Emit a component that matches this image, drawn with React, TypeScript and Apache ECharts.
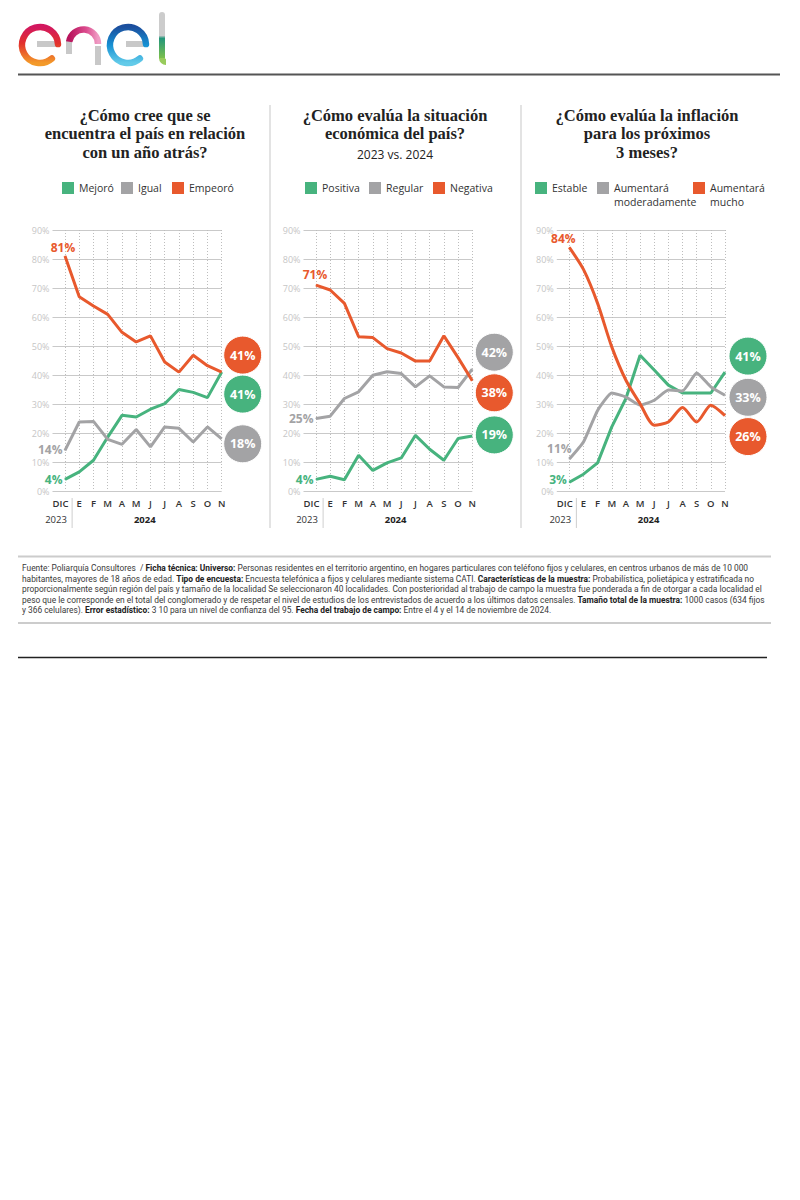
import React, { useEffect, useRef } from 'react';
import * as echarts from 'echarts';

// ---------- data ----------
const MONTHS = ['DIC', 'E', 'F', 'M', 'A', 'M', 'J', 'J', 'A', 'S', 'O', 'N'];
const YEAR_LEFT = '2023';
const YEAR_RIGHT = '2024';

// Chart 1: ¿Cómo cree que se encuentra el país en relación con un año atrás?
const C1_NAMES = ['Mejoró', 'Igual', 'Empeoró'];
const C1_MEJORO = [4, 6.6, 10.6, 18.6, 26.1, 25.5, 28.2, 30.1, 35, 34, 32.2, 41];
const C1_IGUAL = [14, 23.8, 24, 17.8, 16.1, 21.2, 15.2, 22.1, 21.6, 16.9, 22.1, 18];
const C1_EMPEORO = [81, 67, 63.8, 60.9, 54.7, 51.4, 53.5, 44.5, 41, 46.8, 43.2, 41];

// Chart 2: ¿Cómo evalúa la situación económica del país?
const C2_NAMES = ['Positiva', 'Regular', 'Negativa'];
const C2_POSITIVA = [4, 5.1, 3.9, 12.3, 7.1, 9.7, 11.4, 19.2, 14.4, 10.6, 18.1, 19];
const C2_REGULAR = [25, 25.8, 31.9, 34.2, 39.9, 41.1, 40.5, 35.9, 39.7, 35.9, 35.7, 42];
const C2_NEGATIVA = [71, 69.3, 64.7, 53.2, 52.9, 49.1, 47.6, 44.8, 44.8, 53.5, 46, 38];

// Chart 3: ¿Cómo evalúa la inflación para los próximos 3 meses?
const C3_NAMES = ['Estable', 'Aumentará moderadamente', 'Aumentará mucho'];
const C3_ESTABLE = [3, 5.8, 9.7, 22.1, 31.9, 46.8, 41.7, 36.5, 33.8, 33.8, 33.8, 41];
const C3_MODERADO = [11, 16.9, 27.8, 33.8, 32.4, 29.6, 31.3, 34.8, 34.5, 40.7, 35.9, 33];
const C3_MUCHO = [84, 76.4, 64.7, 49.7, 38.2, 30.1, 22.7, 23.8, 28.8, 23.8, 29.6, 26];

const Y_MIN = 0;
const Y_MAX = 90;
const Y_STEP = 10;

const TITLES = [
  '¿Cómo cree que se\nencuentra el país en relación\ncon un año atrás?',
  '¿Cómo evalúa la situación\neconómica del país?',
  '¿Cómo evalúa la inflación\npara los próximos\n3 meses?',
];
const SUBTITLE_2 = '2023 vs. 2024';

const FOOTER_LINES = [
  'Fuente: Poliarquía Consultores  / {b|Ficha técnica: Universo:} Personas residentes en el territorio argentino, en hogares particulares con teléfono fijos y celulares, en centros urbanos de más de 10 000',
  'habitantes, mayores de 18 años de edad. {b|Tipo de encuesta:} Encuesta telefónica a fijos y celulares mediante sistema CATI. {b|Características de la muestra:} Probabilística, polietápica y estratificada no',
  'proporcionalmente según región del país y tamaño de la localidad Se seleccionaron 40 localidades. Con posterioridad al trabajo de campo la muestra fue ponderada a fin de otorgar a cada localidad el',
  'peso que le corresponde en el total del conglomerado y de respetar el nivel de estudios de los entrevistados de acuerdo a los últimos datos censales. {b|Tamaño total de la muestra:} 1000 casos (634 fijos',
  'y 366 celulares). {b|Error estadístico:} 3 10 para un nivel de confianza del 95. {b|Fecha del trabajo de campo:} Entre el 4 y el 14 de noviembre de 2024.',
];

// ---------- styles / layout ----------
const GREEN = '#47B37E';
const GRAY = '#A3A3A5';
const ORANGE = '#E8592D';
const COLORS = [GREEN, GRAY, ORANGE];

const PLOT_TOP = 230;
const PLOT_H = 261;

const PANELS = [
  {
    x0: 65, x1: 221.7, titleX: 145,
    names: C1_NAMES, values: [C1_MEJORO, C1_IGUAL, C1_EMPEORO],
    legendX: [62, 121, 172],
    start: [
      { position: 'left', offset: [0, 0] },
      { position: 'left', offset: [0, -1] },
      { position: 'top', offset: [-2, 0] },
    ],
    badge: [[21, 22], [21, 5], [21, -17]],
    smooth: [false, false, false],
  },
  {
    x0: 316, x1: 472.3, titleX: 395,
    names: C2_NAMES, values: [C2_POSITIVA, C2_REGULAR, C2_NEGATIVA],
    legendX: [305, 369, 433],
    start: [
      { position: 'left', offset: [0, 0] },
      { position: 'left', offset: [0, 0] },
      { position: 'top', offset: [-1, -2] },
    ],
    badge: [[22, -1], [22, -17], [22, 12]],
    smooth: [false, false, false],
  },
  {
    x0: 569.3, x1: 725, titleX: 647,
    names: C3_NAMES, values: [C3_ESTABLE, C3_MODERADO, C3_MUCHO],
    legendX: [535, 597, 693],
    start: [
      { position: 'left', offset: [0, -3] },
      { position: 'top', offset: [-10, -2] },
      { position: 'top', offset: [-6, 0] },
    ],
    badge: [[23, -16], [23, 2], [23, 21]],
    smooth: [false, 0.15, 0.25],
  },
];

const SANS = 'Open Sans';

function legendLabel(name: string) {
  const parts = name.split(' ');
  if (parts.length > 1) return '\n' + parts[0] + '\n' + parts.slice(1).join(' ');
  return name;
}

function buildOption() {
  const grid: any[] = [];
  const xAxis: any[] = [];
  const yAxis: any[] = [];
  const series: any[] = [];
  const legend: any[] = [];
  const graphic: any[] = [];

  PANELS.forEach((p, i) => {
    const w = p.x1 - p.x0;
    const step = w / (MONTHS.length - 1);
    grid.push({ left: p.x0, top: PLOT_TOP, width: w, height: PLOT_H });
    grid.push({ left: p.x0 - 12.5, top: PLOT_TOP, width: w + 12.5, height: PLOT_H });

    xAxis.push({
      gridIndex: 2 * i,
      type: 'category',
      boundaryGap: false,
      data: MONTHS.map((m, k) => (k === 0 ? { value: m, textStyle: { padding: [0, 9, 0, 0] } } : m)),
      axisLine: { show: false },
      axisTick: { show: false },
      axisLabel: { interval: 0, margin: 7, fontSize: 9.5, fontWeight: 600, color: '#333', fontFamily: SANS },
      splitLine: { show: true, interval: 0, lineStyle: { type: [1, 2], color: '#bdbdbd', width: 1 } },
    });
    xAxis.push({ gridIndex: 2 * i + 1, type: 'value', min: 0, max: 1, show: false });

    yAxis.push({ gridIndex: 2 * i, type: 'value', min: Y_MIN, max: Y_MAX, show: false });
    yAxis.push({
      gridIndex: 2 * i + 1,
      type: 'value',
      min: Y_MIN,
      max: Y_MAX,
      interval: Y_STEP,
      axisLine: { show: false },
      axisTick: { show: false },
      axisLabel: { formatter: '{value}%', fontSize: 9, color: '#c6c6c6', margin: 3, fontFamily: SANS, lineHeight: 10 },
      splitLine: { show: true, lineStyle: { color: '#c9c9c9', width: 1 } },
    });

    p.names.forEach((name, k) => {
      const vals = p.values[k];
      const color = COLORS[k];
      const last = vals[vals.length - 1];
      series.push({
        type: 'line',
        name,
        xAxisIndex: 2 * i,
        yAxisIndex: 2 * i,
        symbol: 'none',
        showSymbol: true,
        showAllSymbol: true,
        smooth: p.smooth[k],
        z: 3 + k,
        lineStyle: { width: 3, color },
        itemStyle: { color },
        emphasis: { disabled: true },
        data: vals.map((v, j) =>
          j === 0
            ? {
                value: v,
                symbol: 'circle',
                symbolSize: 1,
                label: {
                  show: true,
                  position: p.start[k].position,
                  offset: p.start[k].offset,
                  distance: 2,
                  formatter: '{c}%',
                  color,
                  fontWeight: 'bold',
                  fontSize: 12,
                  lineHeight: 12,
                  fontFamily: SANS,
                },
              }
            : v
        ),
        markPoint: {
          silent: true,
          symbol: 'circle',
          symbolSize: 38,
          itemStyle: { color, borderColor: '#fff', borderWidth: 1 },
          label: { show: true, formatter: '{c}%', color: '#fff', fontWeight: 'bold', fontSize: 12.5, fontFamily: SANS },
          data: [{ coord: [vals.length - 1, last], value: last, symbolOffset: p.badge[k] }],
        },
      });

      const multi = legendLabel(name).indexOf('\n') >= 0;
      legend.push({
        data: [name],
        left: p.legendX[k],
        top: multi ? 167 : 181,
        padding: 0,
        icon: 'rect',
        itemWidth: 12,
        itemHeight: 12,
        selectedMode: false,
        formatter: legendLabel,
        textStyle: { fontSize: 10.5, color: '#333', fontFamily: SANS, lineHeight: 14 },
      });
    });

    // titles
    graphic.push({
      type: 'text',
      x: p.titleX,
      y: 106,
      style: {
        text: TITLES[i],
        fill: '#222',
        fontFamily: 'Liberation Serif',
        fontWeight: 'bold',
        fontSize: 16.5,
        lineHeight: 18.5,
        align: 'center',
        verticalAlign: 'top',
      },
    });

    // year labels and separator
    graphic.push({
      type: 'text',
      x: p.x0 - 9,
      y: 519,
      style: { text: YEAR_LEFT, fill: '#333', fontFamily: SANS, fontSize: 9.5, align: 'center', verticalAlign: 'middle' },
    });
    graphic.push({
      type: 'text',
      x: p.x0 + step * 5.6,
      y: 519,
      style: { text: YEAR_RIGHT, fill: '#222', fontFamily: SANS, fontWeight: 'bold', fontSize: 9.5, align: 'center', verticalAlign: 'middle' },
    });
    graphic.push({
      type: 'line',
      shape: { x1: p.x0 + step / 2, y1: 498, x2: p.x0 + step / 2, y2: 528 },
      style: { stroke: '#cfcfcf', lineWidth: 1 },
    });
  });

  graphic.push({
    type: 'text',
    x: PANELS[1].titleX,
    y: 154,
    style: { text: SUBTITLE_2, fill: '#222', fontFamily: SANS, fontSize: 12, align: 'center', verticalAlign: 'middle' },
  });

  // panel separators
  [270, 521].forEach((x) => {
    graphic.push({ type: 'line', shape: { x1: x, y1: 105, x2: x, y2: 528 }, style: { stroke: '#e3e3e3', lineWidth: 2 } });
  });

  // header rule
  graphic.push({ type: 'line', shape: { x1: 18, y1: 74.5, x2: 780, y2: 74.5 }, style: { stroke: '#555', lineWidth: 2 } });

  // footer
  graphic.push({ type: 'line', shape: { x1: 18, y1: 556.5, x2: 771, y2: 556.5 }, style: { stroke: '#cccccc', lineWidth: 2 } });
  graphic.push({ type: 'line', shape: { x1: 18, y1: 623, x2: 771, y2: 623 }, style: { stroke: '#cccccc', lineWidth: 2 } });
  graphic.push({ type: 'line', shape: { x1: 18, y1: 657.5, x2: 767, y2: 657.5 }, style: { stroke: '#222', lineWidth: 1.5 } });
  graphic.push({
    type: 'text',
    x: 22,
    y: 562.7,
    style: {
      text: FOOTER_LINES.join('\n'),
      fill: '#3a3a3a',
      fontFamily: 'Roboto',
      fontSize: 8.4,
      lineHeight: 10.6,
      align: 'left',
      verticalAlign: 'top',
      rich: {
        b: { fontFamily: 'Roboto', fontSize: 8.4, fontWeight: 'bold', fill: '#222', lineHeight: 10.6 },
      },
    },
  });

  // enel logo
  const lin = (stops: [number, string][], x2 = 0, y2 = 1) => ({
    type: 'linear', x: 0, y: 0, x2, y2,
    colorStops: stops.map(([offset, color]) => ({ offset, color })),
  });
  const grayBar = '#c8c8c8';
  graphic.push(
    { type: 'line', shape: { x1: 37, y1: 44, x2: 57, y2: 44 }, style: { stroke: grayBar, lineWidth: 6 } },
    {
      type: 'arc',
      shape: { cx: 40, cy: 45, r: 18, startAngle: -0.05, endAngle: 0.85, clockwise: false },
      style: { fill: 'none', lineWidth: 6.5, lineCap: 'round', stroke: lin([[0, '#d2175f'], [0.45, '#e2302c'], [1, '#f39a2a']]) },
    },
    { type: 'line', shape: { x1: 69, y1: 40, x2: 69, y2: 54 }, style: { stroke: grayBar, lineWidth: 6 } },
    {
      type: 'arc',
      shape: { cx: 83.5, cy: 44, r: 14.5, startAngle: Math.PI * 1.05, endAngle: Math.PI * 2, clockwise: true },
      style: { fill: 'none', lineWidth: 6.5, stroke: lin([[0, '#b8145c'], [0.6, '#dc4d8f'], [1, '#ef9cc4']], 1, 0) },
    },
    { type: 'line', shape: { x1: 98, y1: 46, x2: 98, y2: 65 }, style: { stroke: grayBar, lineWidth: 6 } },
    { type: 'line', shape: { x1: 126, y1: 44, x2: 146, y2: 44 }, style: { stroke: grayBar, lineWidth: 6 } },
    {
      type: 'arc',
      shape: { cx: 128, cy: 45, r: 18, startAngle: -0.05, endAngle: 0.85, clockwise: false },
      style: { fill: 'none', lineWidth: 6.5, lineCap: 'round', stroke: lin([[0, '#1c4f9e'], [0.5, '#1590d3'], [1, '#63cbe9']]) },
    },
    {
      type: 'rect',
      shape: { x: 159, y: 12, width: 6, height: 47, r: [3, 3, 0, 0] },
      style: { fill: lin([[0, '#cccccc'], [0.5, '#cccccc'], [0.56, '#23967a'], [1, '#7fc24a']]) },
    },
    {
      type: 'arc',
      shape: { cx: 166, cy: 58, r: 4, startAngle: Math.PI, endAngle: Math.PI / 2, clockwise: false },
      style: { fill: 'none', lineWidth: 6, stroke: '#98cb5c' },
    }
  );

  return {
    animation: false,
    backgroundColor: '#ffffff',
    textStyle: { fontFamily: SANS },
    grid,
    xAxis,
    yAxis,
    legend,
    series,
    graphic,
  };
}

export default function App() {
  const ref = useRef<HTMLDivElement>(null);
  useEffect(() => {
    document.body.style.margin = '0';
    if (!ref.current) return;
    const chart = echarts.init(ref.current, undefined, { renderer: 'svg' });
    chart.setOption(buildOption() as any);
    return () => chart.dispose();
  }, []);
  return <div ref={ref} style={{ width: 800, height: 1200, background: '#fff' }} />;
}
